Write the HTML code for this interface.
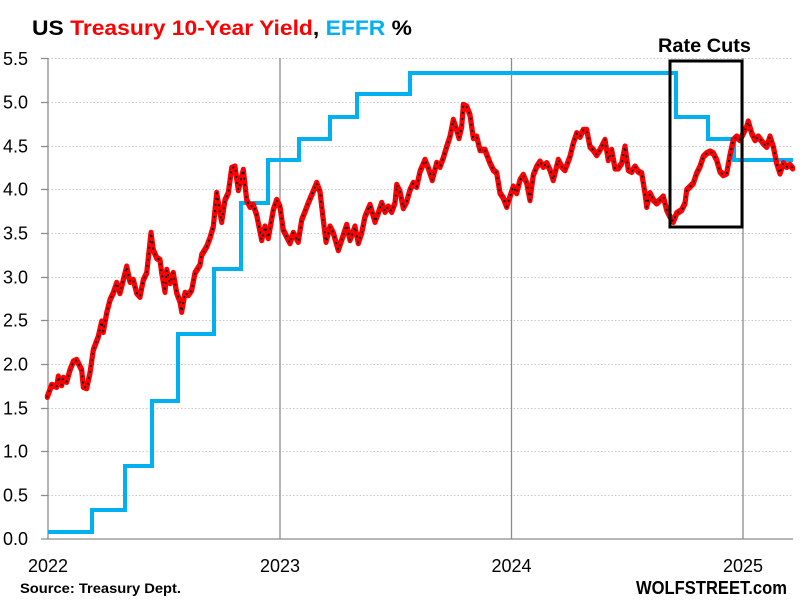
<!DOCTYPE html>
<html><head><meta charset="utf-8"><style>
html,body{margin:0;padding:0;background:#fff;}
svg{display:block;}
text{font-family:"Liberation Sans",Arial,sans-serif;}
</style></head><body>
<svg width="800" height="607" viewBox="0 0 800 607" xmlns="http://www.w3.org/2000/svg">
<rect width="800" height="607" fill="#fff"/>
<!-- title -->
<text x="32" y="35" font-size="21" font-weight="bold" textLength="380" lengthAdjust="spacingAndGlyphs"><tspan fill="#000">US </tspan><tspan fill="#ff0000">Treasury 10-Year Yield</tspan><tspan fill="#000">, </tspan><tspan fill="#00b0f0">EFFR</tspan><tspan fill="#000"> %</tspan></text>
<!-- gridlines -->
<g stroke="#c8c8d0" stroke-width="1" stroke-dasharray="1.5,2">
<line x1="48" y1="58.5" x2="792" y2="58.5"/>
<line x1="48" y1="102.5" x2="792" y2="102.5"/>
<line x1="48" y1="146.5" x2="792" y2="146.5"/>
<line x1="48" y1="189.5" x2="792" y2="189.5"/>
<line x1="48" y1="233.5" x2="792" y2="233.5"/>
<line x1="48" y1="277.5" x2="792" y2="277.5"/>
<line x1="48" y1="320.5" x2="792" y2="320.5"/>
<line x1="48" y1="364.5" x2="792" y2="364.5"/>
<line x1="48" y1="408.5" x2="792" y2="408.5"/>
<line x1="48" y1="451.5" x2="792" y2="451.5"/>
<line x1="48" y1="495.5" x2="792" y2="495.5"/>
</g>
<!-- axes -->
<g stroke="#8c8c8c" stroke-width="1.3">
<line x1="48" y1="58" x2="48" y2="539"/>
<line x1="41" y1="539" x2="793" y2="539"/>
<line x1="280" y1="58" x2="280" y2="539"/>
<line x1="511.5" y1="58" x2="511.5" y2="539"/>
<line x1="743" y1="58" x2="743" y2="539"/>
<line x1="41" y1="58.5" x2="48" y2="58.5"/>
<line x1="41" y1="102.5" x2="48" y2="102.5"/>
<line x1="41" y1="146.5" x2="48" y2="146.5"/>
<line x1="41" y1="189.5" x2="48" y2="189.5"/>
<line x1="41" y1="233.5" x2="48" y2="233.5"/>
<line x1="41" y1="277.5" x2="48" y2="277.5"/>
<line x1="41" y1="320.5" x2="48" y2="320.5"/>
<line x1="41" y1="364.5" x2="48" y2="364.5"/>
<line x1="41" y1="408.5" x2="48" y2="408.5"/>
<line x1="41" y1="451.5" x2="48" y2="451.5"/>
<line x1="41" y1="495.5" x2="48" y2="495.5"/>
</g>
<!-- y labels -->
<g font-size="18" fill="#000" text-anchor="end">
<text x="28" y="65">5.5</text>
<text x="28" y="108.5">5.0</text>
<text x="28" y="152.5">4.5</text>
<text x="28" y="195.5">4.0</text>
<text x="28" y="239.5">3.5</text>
<text x="28" y="283.5">3.0</text>
<text x="28" y="326.5">2.5</text>
<text x="28" y="370.5">2.0</text>
<text x="28" y="414.5">1.5</text>
<text x="28" y="457.5">1.0</text>
<text x="28" y="501.5">0.5</text>
<text x="28" y="545">0.0</text>
</g>
<!-- x labels -->
<g font-size="18" fill="#000" text-anchor="middle">
<text x="48" y="572">2022</text>
<text x="280" y="572">2023</text>
<text x="511.5" y="572">2024</text>
<text x="743" y="572">2025</text>
</g>
<text x="20" y="593" font-size="14" font-weight="bold" fill="#000" textLength="161" lengthAdjust="spacingAndGlyphs">Source: Treasury Dept.</text>
<text x="636" y="594" font-size="18" font-weight="bold" fill="#000" textLength="151" lengthAdjust="spacingAndGlyphs">WOLFSTREET.com</text>
<!-- EFFR -->
<path d="M48,532 H92 V510 H125 V466 H152 V401 H178 V334 H214 V269 H241 V203 H268 V160 H299 V139 H330 V117 H357 V94 H410 V73 H676 V117 H708 V139 H734 V160 H793" fill="none" stroke="#00b0f0" stroke-width="4" stroke-linejoin="miter"/>
<!-- 10Y -->
<g fill="none" stroke-linejoin="round" stroke-linecap="round">
<polyline stroke="#ff0000" stroke-width="5" transform="translate(0,-0.8)" points="47.3,396.7 51.7,385 56.7,386.7 58.3,376.7 61.7,385 63.3,378 66.7,381.7 70,370 73.3,361.7 76.7,360 81.7,370 83.3,386.7 86.7,388 90,373 93.3,350 98.3,336.7 101.7,321.7 103.3,331.7 106.7,313 110,300 113.3,293 116.7,283 120,293 123.3,280 126.7,266.7 130,281.7 133.3,280 136.7,293 140,296.7 143.3,280 146.7,273 151,233 153.3,250 156.7,258 160,260 161.7,273 165,291.7 166.7,270 170,283 173.3,273 176.7,293 180,301.7 181.7,311.7 185,293 188.3,295 191.7,290 195,273 200,265 201.7,255 206.7,246.7 210,238 213.3,226.7 216.7,193 220,213 221.7,221.7 225,200 228.3,193 231.7,168 235,166.7 238.3,190 243.3,170 246.7,200 250,206.7 253.3,205 256.7,215 261.7,240 265,226.7 268.3,238 273.3,210 276.7,200 280,206.7 283.3,230 286.7,236.7 290,243 293.3,233 298.3,241.7 301.7,220 305,211.7 308.3,203 311.7,195 316.7,183 320,191.7 323.3,220 326,241.7 330,226.7 333.3,233 338.3,250 341.7,240 346.7,225 350,240 355,226.7 358.3,243 361.7,233 365,216.7 370,205 375,221.7 378.3,213 381.7,203 385,211.7 388.3,206.7 391.7,211.7 395,203 396.7,185 400,191.7 403.3,208 406.7,201.7 410,190 413.3,183 416.7,186.7 420,171.7 425,160 428.3,168 432.3,180 436.7,163 440,166.7 443.3,158 446.7,146.7 450,136.7 453.3,120 456.7,130 459,138 461.7,126.7 463.3,105 466.7,106.7 470,115 473.3,138 476.7,136.7 480,150 485,150 490,163 493.3,170 496.7,173 500,193 503.3,198 506.7,206.7 510,196.7 513.3,186.7 516.7,193 520,180 523.3,175 526.7,183 530,200 533.3,175 536.7,166.7 540,161.7 543.3,166.7 546.7,163.3 550,170 553.3,180 558.3,160 561.7,166.7 565,170 570,156.7 573.3,143.3 576.7,133.3 580,136.7 583.3,130 586.7,130 590,146.7 593.3,150 596.7,155 600,150 605,140 608.3,160 611.7,150 615,168.3 618.3,168.3 621.7,163.3 625,146.7 628.3,170 631.7,171.7 635,166.7 638.3,171.7 641.7,173.3 645,193.3 646.7,206.7 650,193.3 653.3,200 656.7,203.3 660,200 663.3,196.7 666.7,210 670,216.7 673.3,221.7 676.7,213.3 681.7,210 685,203.3 686.7,190 690,186.7 693.3,183.3 696.7,173.3 700,166.7 703.3,156.7 706.7,153.3 710,151.7 713.3,153.3 716.7,160 720,171.7 723.3,175 726.7,173.3 730,155 733.3,140 736.7,136.7 740,140 743.3,133.3 746.7,126.7 748.3,121.7 751.7,133.3 755,140 758.3,136.7 763.3,143.3 766.7,146.7 770,136.7 773.3,146.7 776.7,163.3 780,173.3 783.3,163.3 786.7,166.7 790,165 792.7,168.3"/>
<polyline stroke="#ff0000" stroke-width="5" transform="translate(0,0.8)" points="47.3,396.7 51.7,385 56.7,386.7 58.3,376.7 61.7,385 63.3,378 66.7,381.7 70,370 73.3,361.7 76.7,360 81.7,370 83.3,386.7 86.7,388 90,373 93.3,350 98.3,336.7 101.7,321.7 103.3,331.7 106.7,313 110,300 113.3,293 116.7,283 120,293 123.3,280 126.7,266.7 130,281.7 133.3,280 136.7,293 140,296.7 143.3,280 146.7,273 151,233 153.3,250 156.7,258 160,260 161.7,273 165,291.7 166.7,270 170,283 173.3,273 176.7,293 180,301.7 181.7,311.7 185,293 188.3,295 191.7,290 195,273 200,265 201.7,255 206.7,246.7 210,238 213.3,226.7 216.7,193 220,213 221.7,221.7 225,200 228.3,193 231.7,168 235,166.7 238.3,190 243.3,170 246.7,200 250,206.7 253.3,205 256.7,215 261.7,240 265,226.7 268.3,238 273.3,210 276.7,200 280,206.7 283.3,230 286.7,236.7 290,243 293.3,233 298.3,241.7 301.7,220 305,211.7 308.3,203 311.7,195 316.7,183 320,191.7 323.3,220 326,241.7 330,226.7 333.3,233 338.3,250 341.7,240 346.7,225 350,240 355,226.7 358.3,243 361.7,233 365,216.7 370,205 375,221.7 378.3,213 381.7,203 385,211.7 388.3,206.7 391.7,211.7 395,203 396.7,185 400,191.7 403.3,208 406.7,201.7 410,190 413.3,183 416.7,186.7 420,171.7 425,160 428.3,168 432.3,180 436.7,163 440,166.7 443.3,158 446.7,146.7 450,136.7 453.3,120 456.7,130 459,138 461.7,126.7 463.3,105 466.7,106.7 470,115 473.3,138 476.7,136.7 480,150 485,150 490,163 493.3,170 496.7,173 500,193 503.3,198 506.7,206.7 510,196.7 513.3,186.7 516.7,193 520,180 523.3,175 526.7,183 530,200 533.3,175 536.7,166.7 540,161.7 543.3,166.7 546.7,163.3 550,170 553.3,180 558.3,160 561.7,166.7 565,170 570,156.7 573.3,143.3 576.7,133.3 580,136.7 583.3,130 586.7,130 590,146.7 593.3,150 596.7,155 600,150 605,140 608.3,160 611.7,150 615,168.3 618.3,168.3 621.7,163.3 625,146.7 628.3,170 631.7,171.7 635,166.7 638.3,171.7 641.7,173.3 645,193.3 646.7,206.7 650,193.3 653.3,200 656.7,203.3 660,200 663.3,196.7 666.7,210 670,216.7 673.3,221.7 676.7,213.3 681.7,210 685,203.3 686.7,190 690,186.7 693.3,183.3 696.7,173.3 700,166.7 703.3,156.7 706.7,153.3 710,151.7 713.3,153.3 716.7,160 720,171.7 723.3,175 726.7,173.3 730,155 733.3,140 736.7,136.7 740,140 743.3,133.3 746.7,126.7 748.3,121.7 751.7,133.3 755,140 758.3,136.7 763.3,143.3 766.7,146.7 770,136.7 773.3,146.7 776.7,163.3 780,173.3 783.3,163.3 786.7,166.7 790,165 792.7,168.3"/>
<polyline stroke="#000" stroke-width="2" stroke-dasharray="0.1,6" points="47.3,396.7 51.7,385 56.7,386.7 58.3,376.7 61.7,385 63.3,378 66.7,381.7 70,370 73.3,361.7 76.7,360 81.7,370 83.3,386.7 86.7,388 90,373 93.3,350 98.3,336.7 101.7,321.7 103.3,331.7 106.7,313 110,300 113.3,293 116.7,283 120,293 123.3,280 126.7,266.7 130,281.7 133.3,280 136.7,293 140,296.7 143.3,280 146.7,273 151,233 153.3,250 156.7,258 160,260 161.7,273 165,291.7 166.7,270 170,283 173.3,273 176.7,293 180,301.7 181.7,311.7 185,293 188.3,295 191.7,290 195,273 200,265 201.7,255 206.7,246.7 210,238 213.3,226.7 216.7,193 220,213 221.7,221.7 225,200 228.3,193 231.7,168 235,166.7 238.3,190 243.3,170 246.7,200 250,206.7 253.3,205 256.7,215 261.7,240 265,226.7 268.3,238 273.3,210 276.7,200 280,206.7 283.3,230 286.7,236.7 290,243 293.3,233 298.3,241.7 301.7,220 305,211.7 308.3,203 311.7,195 316.7,183 320,191.7 323.3,220 326,241.7 330,226.7 333.3,233 338.3,250 341.7,240 346.7,225 350,240 355,226.7 358.3,243 361.7,233 365,216.7 370,205 375,221.7 378.3,213 381.7,203 385,211.7 388.3,206.7 391.7,211.7 395,203 396.7,185 400,191.7 403.3,208 406.7,201.7 410,190 413.3,183 416.7,186.7 420,171.7 425,160 428.3,168 432.3,180 436.7,163 440,166.7 443.3,158 446.7,146.7 450,136.7 453.3,120 456.7,130 459,138 461.7,126.7 463.3,105 466.7,106.7 470,115 473.3,138 476.7,136.7 480,150 485,150 490,163 493.3,170 496.7,173 500,193 503.3,198 506.7,206.7 510,196.7 513.3,186.7 516.7,193 520,180 523.3,175 526.7,183 530,200 533.3,175 536.7,166.7 540,161.7 543.3,166.7 546.7,163.3 550,170 553.3,180 558.3,160 561.7,166.7 565,170 570,156.7 573.3,143.3 576.7,133.3 580,136.7 583.3,130 586.7,130 590,146.7 593.3,150 596.7,155 600,150 605,140 608.3,160 611.7,150 615,168.3 618.3,168.3 621.7,163.3 625,146.7 628.3,170 631.7,171.7 635,166.7 638.3,171.7 641.7,173.3 645,193.3 646.7,206.7 650,193.3 653.3,200 656.7,203.3 660,200 663.3,196.7 666.7,210 670,216.7 673.3,221.7 676.7,213.3 681.7,210 685,203.3 686.7,190 690,186.7 693.3,183.3 696.7,173.3 700,166.7 703.3,156.7 706.7,153.3 710,151.7 713.3,153.3 716.7,160 720,171.7 723.3,175 726.7,173.3 730,155 733.3,140 736.7,136.7 740,140 743.3,133.3 746.7,126.7 748.3,121.7 751.7,133.3 755,140 758.3,136.7 763.3,143.3 766.7,146.7 770,136.7 773.3,146.7 776.7,163.3 780,173.3 783.3,163.3 786.7,166.7 790,165 792.7,168.3"/>
</g>
<!-- Rate cuts box -->
<rect x="670" y="61" width="72" height="166" fill="none" stroke="#000" stroke-width="3"/>
<text x="658" y="52" font-size="19" font-weight="bold" fill="#000" textLength="93" lengthAdjust="spacingAndGlyphs">Rate Cuts</text>
</svg>
</body></html>
